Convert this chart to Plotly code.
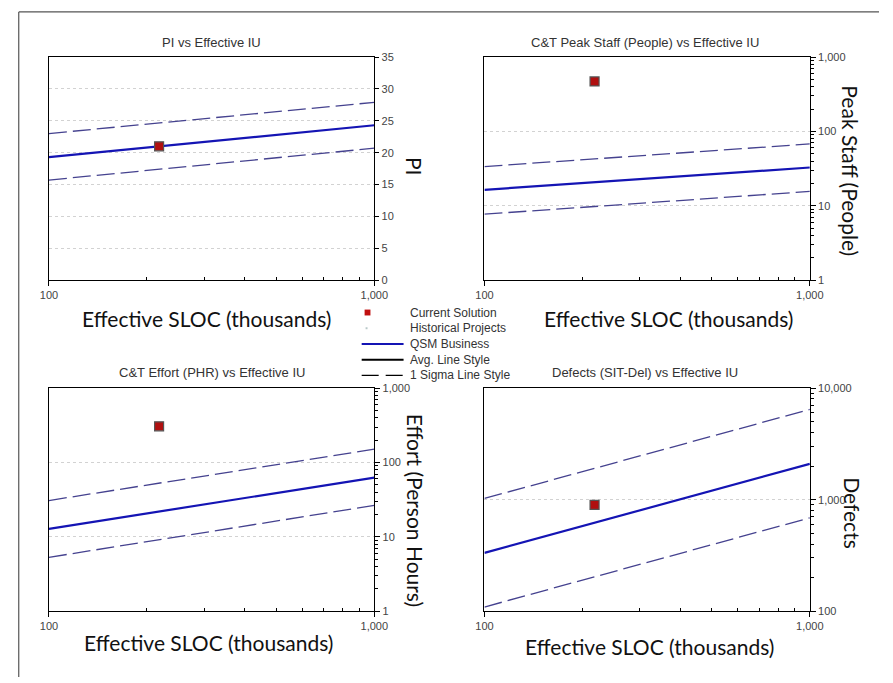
import plotly.graph_objects as go

# ---- data -------------------------------------------------------------
sloc_range = [100, 1000]          # Effective SLOC (thousands), trend-line endpoints
current_sloc = 218                # current solution size

pi_avg = [19.3, 24.3]
pi_hi = [23.0, 27.9]
pi_lo = [15.7, 20.7]
pi_current = 21.0

staff_avg = [16.4, 32.7]
staff_hi = [33.7, 67.8]
staff_lo = [7.7, 15.6]
staff_current = 470

effort_avg = [12.8, 62.6]
effort_hi = [30.8, 151]
effort_lo = [5.3, 26.5]
effort_current = 307

defects_avg = [333, 2097]
defects_hi = [1025, 6440]
defects_lo = [109, 687]
defects_current = 899

x_tickvals = [100, 1000]
x_ticktext = ["100", "1,000"]
x_minor = [200, 300, 400, 500, 600, 700, 800, 900]

pi_tickvals = [0, 5, 10, 15, 20, 25, 30, 35]
pi_ticktext = ["0", "5", "10", "15", "20", "25", "30", "35"]

panel_titles = ["PI vs Effective IU",
                "C&T Peak Staff (People) vs Effective IU",
                "C&T Effort (PHR) vs Effective IU",
                "Defects (SIT-Del) vs Effective IU"]
y_titles = ["PI", "Peak Staff (People)", "Effort (Person Hours)", "Defects"]
x_title = "Effective SLOC (thousands)"

legend_labels = ["Current Solution", "Historical Projects", "QSM Business",
                 "Avg. Line Style", "1 Sigma Line Style"]

# ---- layout geometry (pixels) ----------------------------------------
W, H = 893, 683
AVG_COLOR = "#1414b4"
SIG_COLOR = "#45428f"
TXT = "#333333"
TICKFONT = dict(family="Liberation Sans, Arial", size=11, color="#444444")
BIGFONT = dict(family="Lato, Open Sans", size=21, color="#111111")


def px(x):
    return x / W


def py(y):
    return 1 - y / H


panels = [
    dict(x0=41, x1=375, y0=52, y1=279),
    dict(x0=488, x1=822, y0=52, y1=279),
    dict(x0=41, x1=375, y0=389, y1=616),
    dict(x0=488, x1=822, y0=389, y1=616),
]

series = [
    (pi_avg, pi_hi, pi_lo, pi_current),
    (staff_avg, staff_hi, staff_lo, staff_current),
    (effort_avg, effort_hi, effort_lo, effort_current),
    (defects_avg, defects_hi, defects_lo, defects_current),
]

fig = go.Figure()

for i, (avg, hi, lo, cur) in enumerate(series):
    n = "" if i == 0 else str(i + 1)
    xa, ya = "x" + n, "y" + n
    for vals in (hi, lo):
        fig.add_trace(go.Scatter(x=sloc_range, y=vals, xaxis=xa, yaxis=ya, mode="lines",
                                 line=dict(color=SIG_COLOR, width=1.3, dash="18px,6px"),
                                 showlegend=False, hoverinfo="skip"))
    fig.add_trace(go.Scatter(x=sloc_range, y=avg, xaxis=xa, yaxis=ya, mode="lines",
                             line=dict(color=AVG_COLOR, width=2.2), showlegend=False))
    fig.add_trace(go.Scatter(x=[current_sloc], y=[cur], xaxis=xa, yaxis=ya, mode="markers",
                             marker=dict(symbol="square", size=9, color="#b01010",
                                         line=dict(color="#555555", width=1.2)),
                             showlegend=False))

layout = dict(
    width=W, height=H, margin=dict(l=0, r=0, t=0, b=0),
    paper_bgcolor="white", plot_bgcolor="white", showlegend=False,
)

for i, p in enumerate(panels):
    n = "" if i == 0 else str(i + 1)
    layout["xaxis" + n] = dict(
        type="log", range=[2, 3], domain=[px(p["x0"]), px(p["x1"])],
        anchor="y" + n, tickvals=x_tickvals, ticktext=x_ticktext,
        ticks="outside", ticklen=5, tickcolor="black",
        minor=dict(tickvals=x_minor, ticks="inside", ticklen=3, tickcolor="black"),
        showline=True, linecolor="black", linewidth=1, mirror=True,
        showgrid=False, zeroline=False, tickfont=TICKFONT,
    )
    yax = dict(
        domain=[py(p["y1"]), py(p["y0"])], anchor="x" + n, side="right",
        ticks="outside", ticklen=4, tickcolor="black",
        showline=True, linecolor="black", linewidth=1, mirror=True,
        showgrid=True, gridcolor="#d2d2d2", gridwidth=1, griddash="3px,3px",
        zeroline=False, tickfont=TICKFONT,
    )
    if i == 0:
        yax.update(type="linear", range=[0, 35], tickvals=pi_tickvals, ticktext=pi_ticktext)
    else:
        lo_dec = 2 if i == 3 else 0
        hi_dec = 4 if i == 3 else 3
        majors = [10 ** d for d in range(lo_dec, hi_dec + 1)]
        labels = ["{:,}".format(v) for v in majors]
        minors = [m * 10 ** d for d in range(lo_dec, hi_dec) for m in range(2, 10)]
        yax.update(type="log", range=[lo_dec, hi_dec], tickvals=majors, ticktext=labels,
                   ticklen=5,
                   minor=dict(tickvals=minors, ticks="outside", ticklen=3,
                              tickcolor="black", showgrid=False))
    layout["yaxis" + n] = yax

fig.update_layout(**layout)

# ---- text ------------------------------------------------------------
title_pos = [(208, 37), (653, 37), (208, 373), (653, 373)]
xtitle_pos = [(203, 318), (677, 318), (205, 648), (657, 652)]
ytitle_pos = [(417, 163), (864, 168), (417, 513), (865, 516)]

ann = []
for i in range(4):
    tx, ty = title_pos[i]
    ann.append(dict(x=px(tx), y=py(ty), xref="paper", yref="paper", text=panel_titles[i],
                    showarrow=False, font=dict(family="Liberation Sans, Arial", size=13, color=TXT),
                    xanchor="center", yanchor="middle"))
    tx, ty = xtitle_pos[i]
    ann.append(dict(x=px(tx), y=py(ty), xref="paper", yref="paper", text=x_title,
                    showarrow=False, font=BIGFONT, xanchor="center", yanchor="middle"))
    tx, ty = ytitle_pos[i]
    ann.append(dict(x=px(tx), y=py(ty), xref="paper", yref="paper", text=y_titles[i],
                    showarrow=False, font=BIGFONT, textangle=90,
                    xanchor="center", yanchor="middle"))

# legend block between the panels
leg_y = [312, 328, 344, 360, 376]
for lab, yy in zip(legend_labels, leg_y):
    ann.append(dict(x=px(410), y=py(yy), xref="paper", yref="paper", text=lab,
                    showarrow=False, xanchor="left", yanchor="middle",
                    font=dict(family="Liberation Sans, Arial", size=12, color=TXT)))
fig.update_layout(annotations=ann)

shapes = [
    # outer frame
    dict(type="line", xref="paper", yref="paper", x0=px(10), x1=1.0, y0=py(6), y1=py(6),
         line=dict(color="#555555", width=1.2)),
    dict(type="line", xref="paper", yref="paper", x0=px(10), x1=px(10), y0=py(6), y1=0,
         line=dict(color="#555555", width=1.2)),
    # legend symbols
    dict(type="rect", xref="paper", yref="paper", x0=px(365), x1=px(371),
         y0=py(315), y1=py(309), fillcolor="#c01010", line=dict(width=0)),
    dict(type="rect", xref="paper", yref="paper", x0=px(366), x1=px(368),
         y0=py(329), y1=py(327), fillcolor="#b8c8c8", line=dict(width=0)),
    dict(type="line", xref="paper", yref="paper", x0=px(362), x1=px(405),
         y0=py(344), y1=py(344), line=dict(color=AVG_COLOR, width=2)),
    dict(type="line", xref="paper", yref="paper", x0=px(362), x1=px(405),
         y0=py(360), y1=py(360), line=dict(color="black", width=2)),
    dict(type="line", xref="paper", yref="paper", x0=px(362), x1=px(405),
         y0=py(376), y1=py(376), line=dict(color="black", width=1.2, dash="17px,7px")),
]
fig.update_layout(shapes=shapes)

fig.write_html("out.html")
